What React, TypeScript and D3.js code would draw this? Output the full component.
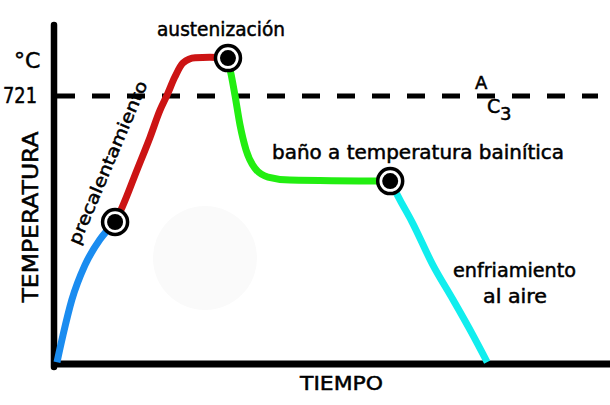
import React from "react";
import * as d3 from "d3";

// time (0-100) and temperature (°C) pairs for each stage
const stageNames = ["precalentamiento inicial", "precalentamiento", "austenización → baño", "enfriamiento al aire"];
const blueTime = [0, 1.1, 2.7, 5.1, 7.8, 10.6];
const blueTemp = [5, 78, 172, 266, 334, 382];
const redTime = [10.6, 11.9, 14.6, 17.0, 18.8, 20.1, 21.5, 23.0, 25.2, 27.9, 31.2];
const redTemp = [382, 422, 522, 611, 683, 724, 772, 810, 824, 825, 823];
const greenTime = [31.2, 31.8, 32.5, 33.4, 34.5, 36.1, 38.5, 42.5, 60.8];
const greenTemp = [818, 777, 721, 643, 576, 527, 503, 495, 492];
const cyanTime = [60.8, 62.6, 64.8, 68.6, 72.3, 75.7, 78.5];
const cyanTemp = [492, 441, 382, 266, 172, 83, 5];
const markerTime = [10.6, 31.2, 60.8];
const markerTemp = [382, 823, 492];
const ac3Temp = 721;

const W = 610;
const H = 405;
const FONT = "'Comic Sans MS', 'DejaVu Sans', sans-serif";

export default function App() {
  const x = d3.scaleLinear().domain([0, 100]).range([57, 605]);
  const y = d3.scaleLinear().domain([0, 721]).range([364, 96]);
  const line = d3
    .line<[number, number]>()
    .x((d) => x(d[0]))
    .y((d) => y(d[1]))
    .curve(d3.curveMonotoneX);
  const zip = (a: number[], b: number[]) => a.map((v, i) => [v, b[i]] as [number, number]);
  const series = [
    { pts: zip(blueTime, blueTemp), color: "#1a8cf0" },
    { pts: zip(redTime, redTemp), color: "#cc1414" },
    { pts: zip(greenTime, greenTemp), color: "#22ee11" },
    { pts: zip(cyanTime, cyanTemp), color: "#11eeee" },
  ];
  const axisX = x(0) - 3;
  const axisY = y(0);
  const txt = { fill: "#000", stroke: "#000", strokeWidth: 0.5 };
  return (
    <svg
      width={W}
      height={H}
      style={{ position: "absolute", left: 0, top: 0, background: "#fff" }}
      fontFamily={FONT}
    >
      <rect width={W} height={H} fill="#fff" />
      <circle cx={205} cy={258} r={52} fill="#fafafa" />
      {/* axes */}
      <line x1={axisX} y1={25} x2={axisX} y2={axisY + 3} stroke="#000" strokeWidth={6.5} strokeLinecap="round" />
      <line x1={axisX - 3} y1={axisY} x2={W} y2={axisY} stroke="#000" strokeWidth={7} />
      {/* Ac3 dashed line */}
      <line
        x1={x(0)}
        y1={y(ac3Temp)}
        x2={598}
        y2={y(ac3Temp)}
        stroke="#000"
        strokeWidth={5}
        strokeDasharray="18,17"
      />
      {series.map((s, i) => (
        <path key={i} d={line(s.pts) || ""} fill="none" stroke={s.color} strokeWidth={7} strokeLinecap="butt" />
      ))}
      {markerTime.map((t, i) => (
        <g key={i} transform={`translate(${x(t)},${y(markerTemp[i])})`}>
          <circle r={12.5} fill="#fff" stroke="#000" strokeWidth={3.5} />
          <circle r={8} fill="#000" />
        </g>
      ))}
      {/* texts */}
      <text x={14} y={68} fontSize={22} {...txt}>°C</text>
      <text x={3} y={103} fontSize={21} {...txt} textLength={34} lengthAdjust="spacingAndGlyphs">{String(ac3Temp)}</text>
      <text
        transform="translate(38,217) rotate(-90)"
        textAnchor="middle"
        fontSize={21}
        {...txt}
        textLength={171}
        lengthAdjust="spacingAndGlyphs"
      >
        TEMPERATURA
      </text>
      <text x={300} y={390} fontSize={20} {...txt} textLength={83} lengthAdjust="spacingAndGlyphs">TIEMPO</text>
      <text x={157} y={36} fontSize={19} {...txt} textLength={128} lengthAdjust="spacingAndGlyphs">austenización</text>
      <text x={272} y={159} fontSize={19} {...txt} textLength={292} lengthAdjust="spacingAndGlyphs">baño a temperatura bainítica</text>
      <text x={453} y={277} fontSize={19} {...txt} textLength={123} lengthAdjust="spacingAndGlyphs">enfriamiento</text>
      <text x={483} y={303} fontSize={19} {...txt} textLength={64} lengthAdjust="spacingAndGlyphs">al aire</text>
      <text x={475} y={89} fontSize={18} {...txt}>A</text>
      <text x={487} y={113} fontSize={19} {...txt}>C</text>
      <text x={500} y={120} fontSize={18} {...txt}>3</text>
      <text
        transform="translate(79,246) rotate(-67)"
        fontSize={17}
        {...txt}
        textLength={176}
        lengthAdjust="spacingAndGlyphs"
      >
        {stageNames[1]}
      </text>
    </svg>
  );
}
